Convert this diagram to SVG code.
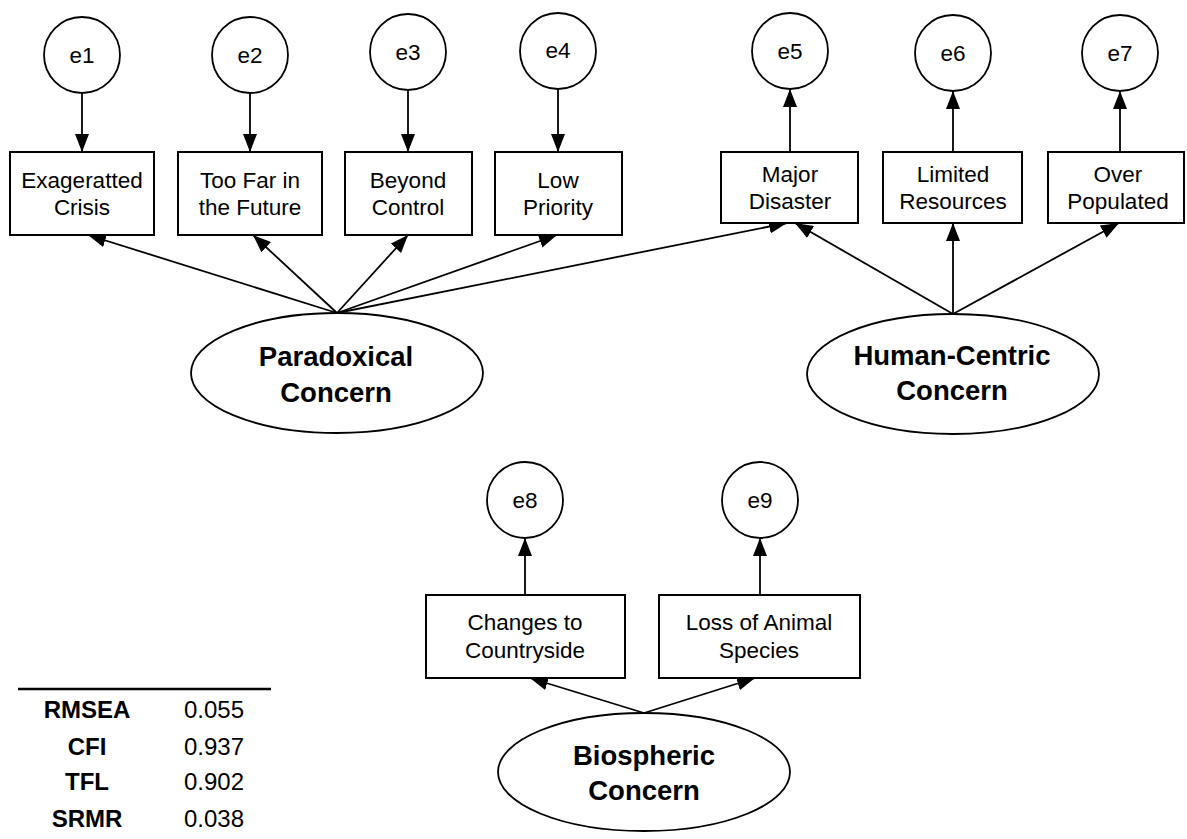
<svg xmlns="http://www.w3.org/2000/svg" width="1187" height="839" viewBox="0 0 1187 839">
<style>
.box{fill:#fff;stroke:#000;stroke-width:2}
.circ{fill:#fff;stroke:#000;stroke-width:1.8}
.lat{fill:#fff;stroke:#000;stroke-width:1.8}
.lbl{font-family:"Liberation Sans",Arial,sans-serif;font-size:22.5px;fill:#000;text-anchor:middle}
.big{font-family:"Liberation Sans",Arial,sans-serif;font-size:27.5px;font-weight:bold;fill:#000;text-anchor:middle}
.tb{font-family:"Liberation Sans",Arial,sans-serif;font-size:24px;fill:#000;text-anchor:middle}
.con line{stroke:#000;stroke-width:1.8;marker-end:url(#ah)}
</style>
<defs>
<marker id="ah" markerUnits="userSpaceOnUse" markerWidth="18" markerHeight="14" refX="18" refY="7" orient="auto">
<path d="M0,0 L18,7 L0,14 z" fill="#000"/>
</marker>
</defs>
<rect width="1187" height="839" fill="#fff"/>
<g class="con">
<line x1="82" y1="93" x2="82" y2="152"/>
<line x1="250" y1="93" x2="250" y2="152"/>
<line x1="408" y1="90" x2="408" y2="152"/>
<line x1="558" y1="89" x2="558" y2="152"/>
<line x1="790" y1="152" x2="790" y2="89"/>
<line x1="953" y1="152" x2="953" y2="91"/>
<line x1="1120" y1="152" x2="1120" y2="91"/>
<line x1="525" y1="595" x2="525" y2="538"/>
<line x1="760" y1="595" x2="760" y2="538"/>
<line x1="337" y1="313" x2="88" y2="235"/>
<line x1="337" y1="313" x2="253" y2="235"/>
<line x1="337" y1="313" x2="408" y2="235"/>
<line x1="337" y1="313" x2="557" y2="235"/>
<line x1="337" y1="313" x2="787" y2="223"/>
<line x1="953" y1="314" x2="795" y2="223"/>
<line x1="953" y1="314" x2="953" y2="223"/>
<line x1="953" y1="314" x2="1119" y2="223"/>
<line x1="644" y1="713" x2="530" y2="678"/>
<line x1="644" y1="713" x2="755" y2="678"/>
</g>
<g id="e1"><ellipse class="circ" cx="82" cy="55" rx="38" ry="38"/><text class="lbl" x="82" y="63">e1</text></g>
<g id="e2"><ellipse class="circ" cx="250" cy="55" rx="38" ry="38"/><text class="lbl" x="250" y="63">e2</text></g>
<g id="e3"><ellipse class="circ" cx="408" cy="52" rx="38" ry="38"/><text class="lbl" x="408" y="60">e3</text></g>
<g id="e4"><ellipse class="circ" cx="558" cy="51" rx="38" ry="38"/><text class="lbl" x="558" y="58">e4</text></g>
<g id="e5"><ellipse class="circ" cx="790" cy="51" rx="38" ry="38"/><text class="lbl" x="790" y="59">e5</text></g>
<g id="e6"><ellipse class="circ" cx="953" cy="53" rx="38" ry="38"/><text class="lbl" x="953" y="61">e6</text></g>
<g id="e7"><ellipse class="circ" cx="1120" cy="53" rx="38" ry="38"/><text class="lbl" x="1120" y="61">e7</text></g>
<g id="e8"><ellipse class="circ" cx="525" cy="500" rx="38" ry="38"/><text class="lbl" x="525" y="508">e8</text></g>
<g id="e9"><ellipse class="circ" cx="760" cy="500" rx="38" ry="38"/><text class="lbl" x="760" y="508">e9</text></g>
<g id="exagerated"><rect class="box" x="10" y="152" width="144" height="83"/><text class="lbl" x="82" y="188">Exageratted</text><text class="lbl" x="82" y="215">Crisis</text></g>
<g id="toofar"><rect class="box" x="178" y="152" width="144" height="83"/><text class="lbl" x="250" y="188">Too Far in</text><text class="lbl" x="250" y="215">the Future</text></g>
<g id="beyond"><rect class="box" x="345" y="152" width="127" height="83"/><text class="lbl" x="408" y="188">Beyond</text><text class="lbl" x="408" y="215">Control</text></g>
<g id="low"><rect class="box" x="495" y="152" width="127" height="83"/><text class="lbl" x="558" y="188">Low</text><text class="lbl" x="558" y="215">Priority</text></g>
<g id="major"><rect class="box" x="721" y="152" width="137" height="71"/><text class="lbl" x="790" y="182">Major</text><text class="lbl" x="790" y="209">Disaster</text></g>
<g id="limited"><rect class="box" x="883" y="152" width="139" height="71"/><text class="lbl" x="953" y="182">Limited</text><text class="lbl" x="953" y="209">Resources</text></g>
<g id="over"><rect class="box" x="1048" y="152" width="136" height="71"/><text class="lbl" x="1118" y="182">Over</text><text class="lbl" x="1118" y="209">Populated</text></g>
<g id="changes"><rect class="box" x="426" y="595" width="199" height="83"/><text class="lbl" x="525" y="630">Changes to</text><text class="lbl" x="525" y="658">Countryside</text></g>
<g id="loss"><rect class="box" x="659" y="595" width="201" height="83"/><text class="lbl" x="759" y="630">Loss of Animal</text><text class="lbl" x="759" y="658">Species</text></g>
<g id="paradoxical"><ellipse class="lat" cx="337" cy="373" rx="146" ry="60"/><text class="big" x="336" y="366">Paradoxical</text><text class="big" x="336" y="402">Concern</text></g>
<g id="humancentric"><ellipse class="lat" cx="953" cy="374" rx="146" ry="60"/><text class="big" x="952" y="365">Human-Centric</text><text class="big" x="952" y="400">Concern</text></g>
<g id="biospheric"><ellipse class="lat" cx="644" cy="772" rx="146" ry="59"/><text class="big" x="644" y="765">Biospheric</text><text class="big" x="644" y="800">Concern</text></g>
<g id="fit-table">
<line x1="18" y1="689" x2="271" y2="689" stroke="#000" stroke-width="2.5"/>
<text class="tb" x="87" y="718" font-weight="bold">RMSEA</text><text class="tb" x="214" y="718">0.055</text>
<text class="tb" x="87" y="755" font-weight="bold">CFI</text><text class="tb" x="214" y="755">0.937</text>
<text class="tb" x="87" y="790" font-weight="bold">TFL</text><text class="tb" x="214" y="790">0.902</text>
<text class="tb" x="87" y="827" font-weight="bold">SRMR</text><text class="tb" x="214" y="827">0.038</text>
</g>
</svg>
